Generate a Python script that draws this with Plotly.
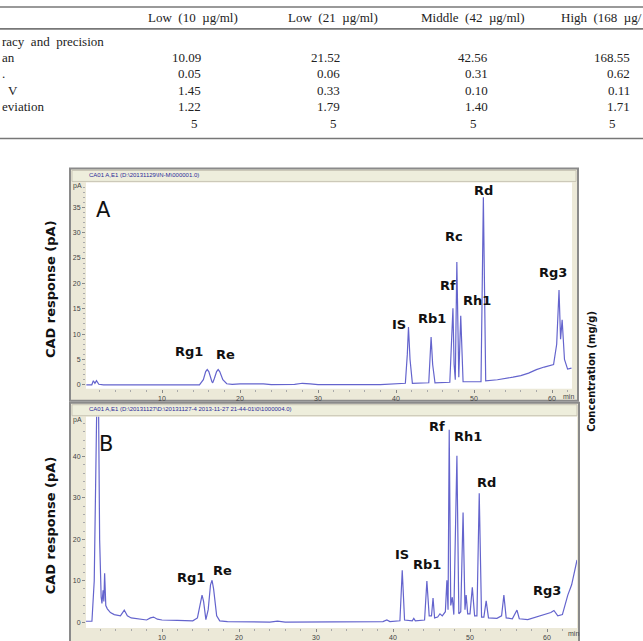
import plotly.graph_objects as go

W, H = 643, 641

# ---------------- table data ----------------
col_headers = ["Low (10 µg/ml)", "Low (21 µg/ml)", "Middle (42 µg/ml)", "High (168 µg/"]
row_labels = ["racy and precision", "an", ".", "V", "eviation", ""]
mean_vals = ["10.09", "21.52", "42.56", "168.55"]
sd_vals = ["0.05", "0.06", "0.31", "0.62"]
cv_vals = ["1.45", "0.33", "0.10", "0.11"]
dev_vals = ["1.22", "1.79", "1.40", "1.71"]
n_vals = ["5", "5", "5", "5"]

# ---------------- chromatogram A (min, pA) ----------------
a_time = [0.3, 1.0, 1.2, 1.4, 1.6, 1.9, 2.5, 14.8, 15.3, 15.6, 15.8, 16.0, 16.4, 16.5, 16.7, 17.0, 17.2,
          17.4, 17.8, 18.3, 19.0, 20.0, 23.0, 24.0, 27.0, 28.0, 29.0, 30.0, 38.0, 41.2, 41.45, 41.6,
          41.8, 42.1, 44.2, 44.4, 44.5, 44.7, 45.0, 46.9, 47.1, 47.3, 47.45, 47.6, 47.8, 48.05, 48.3,
          48.6, 50.9, 51.2, 51.5, 53.0, 55.0, 56.0, 57.0, 58.0, 59.0, 60.2, 60.6, 60.9, 61.1, 61.3,
          61.6, 62.0, 62.5]
a_resp = [0.0, 0.0, 0.8, 0.3, 0.8, 0.1, 0.0, 0.0, 1.0, 2.6, 3.0, 2.6, 0.6, 0.4, 1.2, 2.6, 3.0,
          2.6, 1.0, 0.2, 0.1, 0.2, 0.2, 0.05, 0.1, 0.3, 0.2, 0.05, 0.05, 0.3, 6.0, 11.4,
          5.0, 0.3, 0.4, 5.0, 9.4, 4.0, 0.4, 0.5, 8.0, 15.1, 4.0, 1.0, 24.2, 1.5, 13.6,
          0.6, 0.6, 37.0, 0.8, 1.0, 1.5, 1.8, 2.3, 3.0, 3.5, 4.0, 8.0, 18.7, 9.0, 12.8,
          5.0, 3.1, 3.3]
a_peaks = ["Rg1", "Re", "IS", "Rb1", "Rf", "Rc", "Rh1", "Rd", "Rg3"]
a_peak_t = [13.5, 18.1, 40.4, 44.6, 46.7, 47.4, 50.4, 51.2, 60.1]
a_peak_lab_y = [6.6, 5.9, 11.9, 13.1, 19.5, 29.3, 16.7, 38.4, 22.2]

# ---------------- chromatogram B (min, pA) ----------------
b_time = [0.13, 0.9, 1.2, 1.4, 1.55, 1.75, 1.9, 2.1, 2.2, 2.35, 2.45, 2.55, 2.7, 2.9, 3.3, 3.8, 4.3,
          4.6, 5.1, 5.5, 6.0, 7.0, 8.0, 8.5, 8.9, 9.4, 10.0, 12.0, 14.0, 14.6, 15.0, 15.2, 15.4,
          15.7, 16.0, 16.3, 16.5, 16.7, 17.1, 17.5, 18.5, 24.0, 25.0, 26.0, 38.7, 39.2, 39.6, 40.9,
          41.2, 41.5, 42.5, 42.7, 42.9, 44.1, 44.4, 44.7, 45.0, 45.2, 45.4, 45.8, 46.1, 46.4, 46.8,
          47.0, 47.15, 47.3, 47.5, 47.7, 47.9, 48.3, 48.55, 48.8, 49.1, 49.35, 49.5, 49.7, 50.0,
          50.3, 50.6, 50.9, 51.2, 51.5, 51.8, 52.1, 52.4, 53.5, 54.1, 54.4, 54.7, 55.5, 56.1, 56.4,
          57.5, 58.5, 59.5, 60.5, 60.9, 61.4, 62.0, 62.5, 62.7, 63.2, 63.6, 63.9]
b_resp = [0.2, 0.2, 10.0, 40.0, 55.0, 55.0, 20.0, 6.0, 4.5, 7.7, 5.0, 11.8, 4.0, 3.2, 2.3, 1.8, 1.5,
          1.5, 2.9, 1.5, 1.0, 0.8, 0.5, 1.0, 1.2, 0.7, 0.5, 0.4, 0.3, 1.0, 5.0, 6.5, 5.0,
          0.6, 3.0, 9.0, 10.1, 8.0, 1.5, 0.3, 0.1, 0.0, 0.2, 0.0, 0.1, 0.5, 0.1, 0.3,
          12.5, 0.5, 0.3, 0.9, 0.3, 0.5, 9.9, 1.5, 1.5, 5.8, 1.0, 1.2, 2.0, 1.5, 2.5,
          10.1, 3.0, 46.5, 4.0, 6.0, 1.8, 40.2, 2.0, 2.5, 26.5, 3.0, 6.5, 2.0, 2.0,
          8.4, 1.5, 1.5, 31.1, 1.2, 1.2, 5.1, 1.0, 0.9, 1.5, 6.5, 1.0, 0.8, 2.9, 0.8,
          0.6, 1.2, 1.8, 2.3, 2.8, 1.5, 1.8, 5.5, 6.5, 9.0, 12.0, 15.0]
b_peaks = ["Rg1", "Re", "IS", "Rb1", "Rf", "Rh1", "Rd", "Rg3"]
b_peak_t = [13.8, 17.8, 41.2, 44.4, 45.7, 49.8, 52.1, 60.0]
b_peak_lab_y = [10.8, 12.5, 16.4, 13.8, 47.2, 44.8, 33.7, 7.7]

y_ticks_a = [0, 5, 10, 15, 20, 25, 30, 35]
y_ticks_b = [0, 10, 20, 30, 40]
x_ticks = [10, 20, 30, 40, 50, 60]


def px(x):
    return x / W


def py(y):
    return 1 - y / H


LINE = "rgb(100,100,205)"
fig = go.Figure()
fig.add_trace(go.Scatter(x=a_time, y=a_resp, mode="lines", line=dict(color=LINE, width=1.2),
                         xaxis="x", yaxis="y", showlegend=False, hoverinfo="skip"))
fig.add_trace(go.Scatter(x=b_time, y=b_resp, mode="lines", line=dict(color=LINE, width=1.2),
                         xaxis="x2", yaxis="y2", showlegend=False, hoverinfo="skip"))

tickfont = dict(size=7, color="#444", family="Arial, Liberation Sans")
common_x = dict(showgrid=False, zeroline=False, showline=False, ticks="outside", ticklen=3,
                tickcolor="#888", tickfont=tickfont, tickvals=x_ticks, fixedrange=True)
common_y = dict(showgrid=False, zeroline=False, showline=False, ticks="outside", ticklen=3,
                tickcolor="#888", tickfont=tickfont, fixedrange=True)

fig.update_layout(
    xaxis=dict(domain=[px(86), px(572)], range=[(86 - 84) / 7.8, (572 - 84) / 7.8], anchor="y",
               **common_x, minor=dict(ticks="outside", ticklen=2, dtick=2, tickcolor="#aaa")),
    yaxis=dict(domain=[py(390), py(183)], range=[(386 - 390) / 5.086, (386 - 183) / 5.086],
               anchor="x", tickvals=y_ticks_a, **common_y,
               minor=dict(ticks="outside", ticklen=2, dtick=1, tickcolor="#aaa")),
    xaxis2=dict(domain=[px(86), px(577)], range=[(86 - 85) / 7.7, (577 - 85) / 7.7], anchor="y2",
                **common_x, minor=dict(ticks="outside", ticklen=2, dtick=2, tickcolor="#aaa")),
    yaxis2=dict(domain=[py(630), py(418)], range=[(624 - 630) / 4.15, (624 - 418) / 4.15],
                anchor="x2", tickvals=y_ticks_b, **common_y,
                minor=dict(ticks="outside", ticklen=2, dtick=2, tickcolor="#aaa")),
)

shapes = []
for yy in [7, 29, 139]:
    shapes.append(dict(type="line", xref="paper", yref="paper", x0=0, x1=1, y0=py(yy), y1=py(yy),
                       line=dict(color="#777", width=1.6)))

for (top, bot, right, ptop, pbot, pright) in [(169, 402, 578, 183, 390, 572),
                                               (404, 645, 579, 418, 630, 577)]:
    shapes.append(dict(type="rect", xref="paper", yref="paper", x0=px(70), x1=px(right),
                       y0=py(bot), y1=py(top), fillcolor="#ECE9D8",
                       line=dict(color="#8a8a8a", width=2), layer="below"))
    shapes.append(dict(type="rect", xref="paper", yref="paper", x0=px(72), x1=px(right - 2),
                       y0=py(top + 13), y1=py(top + 2), fillcolor="#EEEEDC",
                       line=dict(color="#c9c6b6", width=1), layer="below"))
    shapes.append(dict(type="rect", xref="paper", yref="paper", x0=px(86), x1=px(pright),
                       y0=py(pbot), y1=py(ptop), fillcolor="white",
                       line=dict(width=0), layer="below"))
fig.update_layout(shapes=shapes)

ann = []


def pa(x, y, text, font, xanchor="center", yanchor="middle", **kw):
    ann.append(dict(x=px(x), y=py(y), xref="paper", yref="paper", text=text, xanchor=xanchor,
                    yanchor=yanchor, showarrow=False, font=font, **kw))


serif = dict(family="Liberation Serif, Times New Roman, serif", size=13, color="#222")
hx = [193, 333, 473, 559]
for i, t in enumerate(col_headers):
    pa(hx[i], 18, t.replace(" ", "\u00a0\u00a0"), serif, xanchor="center" if i < 3 else "left")
row_y = [42, 58, 74, 91, 107, 124]
label_x = [0, 0, 0, 6, 0, 0]
for lbl, yy, xx in zip(row_labels, row_y, label_x):
    if lbl:
        pa(xx, yy, lbl.replace(" ", "\u00a0\u00a0"), serif, xanchor="left")
num_right = [203, 342, 490, 632]
for vals, yy in zip([mean_vals, sd_vals, cv_vals, dev_vals], row_y[1:5]):
    for i, v in enumerate(vals):
        pa(num_right[i], yy, v, serif, xanchor="right")
n_center = [194, 333, 473, 612]
for i, v in enumerate(n_vals):
    pa(n_center[i], row_y[5], v, serif)

small = dict(family="Arial, Liberation Sans", size=6, color="#2a2a9a")
pa(87, 175.5, "CA01 A,E1 (D:\\20131129\\IN-M\\000001.0)", small, xanchor="left")
pa(87, 410.5, "CA01 A,E1 (D:\\20131127\\D:\\20131127-4 2013-11-27 21-44-01\\0\\1000004.0)", small,
   xanchor="left")
unit = dict(family="Arial, Liberation Sans", size=7, color="#444")
for (x, y, t) in [(77, 187, "pA"), (77, 421, "pA"), (568, 398, "min"), (573, 635, "min")]:
    pa(x, y, t, unit)
big = dict(family="DejaVu Sans, Liberation Sans", size=21, color="#111")
pa(103, 211, "A", big)
pa(106, 445, "B", big)

pk = dict(family="DejaVu Sans", size=13, color="#111")
for name, t, yv in zip(a_peaks, a_peak_t, a_peak_lab_y):
    ann.append(dict(x=t, y=yv, xref="x", yref="y", text="<b>%s</b>" % name, showarrow=False,
                    xanchor="center", yanchor="middle", font=pk))
for name, t, yv in zip(b_peaks, b_peak_t, b_peak_lab_y):
    ann.append(dict(x=t, y=yv, xref="x2", yref="y2", text="<b>%s</b>" % name, showarrow=False,
                    xanchor="center", yanchor="middle", font=pk))

axt = dict(family="DejaVu Sans, Verdana", size=13, color="#111")
pa(50, 290, "<b>CAD response (pA)</b>", axt, textangle=-90)
pa(50, 527, "<b>CAD response (pA)</b>", axt, textangle=-90)
pa(592, 373, "<b>Concentration (mg/g)</b>", dict(family="DejaVu Sans, Verdana", size=10, color="#111"),
   textangle=-90)

fig.update_layout(annotations=ann, width=W, height=H, margin=dict(l=0, r=0, t=0, b=0),
                  paper_bgcolor="white", plot_bgcolor="white", showlegend=False)

fig.write_html("out.html")
